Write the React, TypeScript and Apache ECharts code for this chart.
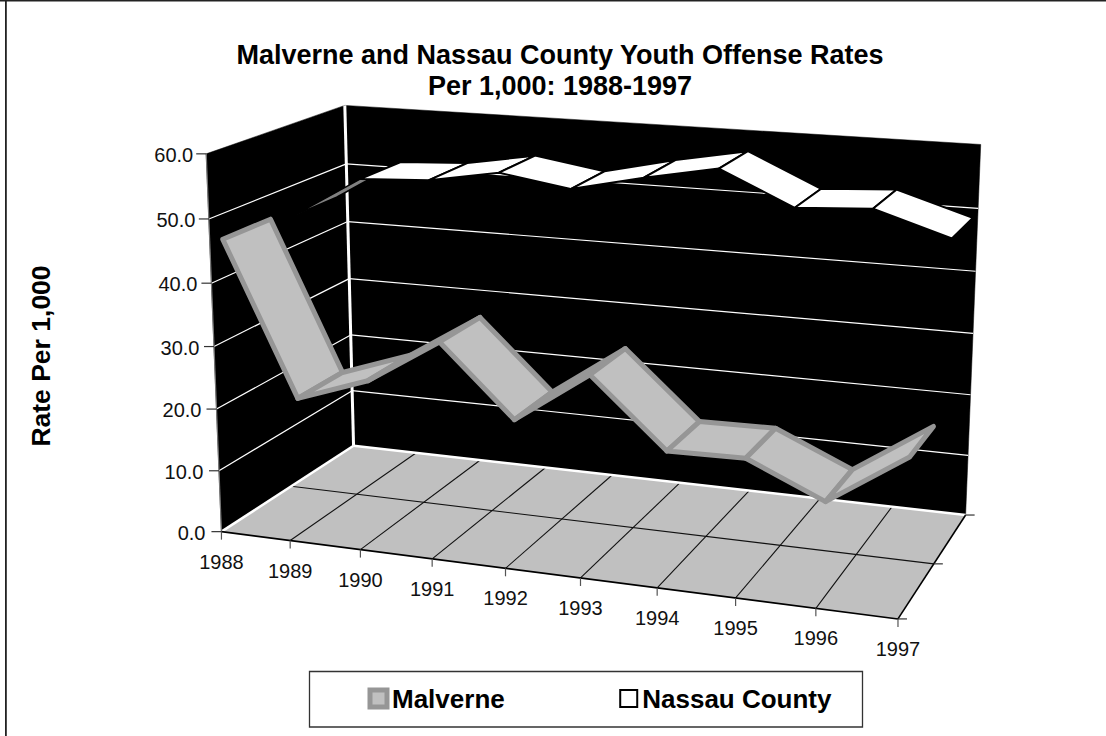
import React, { useEffect, useRef } from "react";
import * as echarts from "echarts";

const years = ["1988","1989","1990","1991","1992","1993","1994","1995","1996","1997"];
const malverne = [46.0,21.8,25.8,33.0,22.1,30.2,19.8,20.0,14.8,22.8];
const nassau = [45.0,51.8,52.4,54.4,52.6,55.2,57.4,52.2,52.9,49.3];
const valueTicks = [0,10,20,30,40,50,60];
const titleLines = ["Malverne and Nassau County Youth Offense Rates","Per 1,000: 1988-1997"];
const depthTicks = [0,0.5,1];

// Camera calibration for the 3D box: [year index, depth, value, screen x, screen y]
const anchors: number[][] = [
  [0,0,0,221,532],[0,1,0,354,445],[0,0,60,206,154],[0,1,60,345,106],[9,1,0,966,514],[9,1,60,981,145],[9,0,0,898,619],
  [1,0,0,290,540],[2,0,0,360,549],[3,0,0,432,559],[4,0,0,505,568],[7,0,0,736,598],[8,0,0,816,608],
  [0,0,10,219,471],[0,0,20,217,409],[0,0,30,214,347],[0,0,40,211,283],[0,0,50,209,219],
  [0,1,10,352,391],[0,1,20,351,335],[0,1,30,349,278],[0,1,40,347,221],[0,1,50,347,163],
  [9,1,50,978,208],[9,1,20,970,395],[9,1,10,968,456],
  [0,0.5,0,293,487],[9,0.5,0,934,564],[1,1,0,415,454],
];

// Least-squares fit of the 3x4 projection matrix (direct linear transform).
function fitCamera(): number[] {
  const n = 11;
  const A = Array.from({ length: n }, () => new Array(n + 1).fill(0));
  const add = (r: number[], b: number) => {
    for (let i = 0; i < n; i++) {
      for (let j = 0; j < n; j++) A[i][j] += r[i] * r[j];
      A[i][n] += r[i] * b;
    }
  };
  for (const [x, d, v, u, w] of anchors) {
    const X = x / 9, Z = v / 60, U = u / 1000, W = w / 1000;
    add([X, d, Z, 1, 0, 0, 0, 0, -U * X, -U * d, -U * Z], U);
    add([0, 0, 0, 0, X, d, Z, 1, -W * X, -W * d, -W * Z], W);
  }
  for (let i = 0; i < n; i++) {
    let m = i;
    for (let k = i + 1; k < n; k++) if (Math.abs(A[k][i]) > Math.abs(A[m][i])) m = k;
    [A[i], A[m]] = [A[m], A[i]];
    for (let k = 0; k < n; k++) {
      if (k === i) continue;
      const f = A[k][i] / A[i][i];
      for (let j = i; j <= n; j++) A[k][j] -= f * A[i][j];
    }
  }
  return A.map((r, i) => r[n] / r[i]);
}
const P = fitCamera();
function project(X: number, d: number, Z: number): [number, number] {
  const w = P[8] * X + P[9] * d + P[10] * Z + 1;
  return [1000 * (P[0] * X + P[1] * d + P[2] * Z + P[3]) / w, 1000 * (P[4] * X + P[5] * d + P[6] * Z + P[7]) / w];
}
const at = (i: number, d: number, v: number) => project(i / 9, d, v / 60);

const FONT = '"Liberation Sans", Arial, sans-serif';
const INK = "#111111";

// The flat cartesian grid only supplies the scales; it spans this rectangle and is hidden.
const GRID = { left: 0, top: 0, width: 900, height: 600 };

type Skin = { fill: string; stroke: string; width: number; underFill: string; underStroke: string; underWidth: number };

function ribbon(name: string, values: number[], d0: number, d1: number, skin: Skin) {
  return {
    type: "custom",
    name,
    coordinateSystem: "cartesian2d",
    z: 5,
    encode: { x: 0, y: 1 },
    itemStyle: { color: skin.fill },
    data: values.slice(0, -1).map((v, i) => [i, v, values[i + 1]]),
    renderItem: (_p: any, api: any) => {
      const i = api.value(0);
      const toBox = (idx: number, v: number, d: number) => {
        const c = api.coord([idx, v]);
        return project((c[0] - GRID.left) / GRID.width, d, 1 - (c[1] - GRID.top) / GRID.height);
      };
      const pts = [
        toBox(i, api.value(1), d0),
        toBox(i, api.value(1), d1),
        toBox(i + 1, api.value(2), d1),
        toBox(i + 1, api.value(2), d0),
      ];
      const a = [pts[1][0] - pts[0][0], pts[1][1] - pts[0][1]];
      const b = [pts[3][0] - pts[0][0], pts[3][1] - pts[0][1]];
      const facingDown = a[0] * b[1] - a[1] * b[0] < 0;
      return {
        type: "polygon",
        shape: { points: pts },
        style: {
          fill: facingDown ? skin.underFill : skin.fill,
          stroke: facingDown ? skin.underStroke : skin.stroke,
          lineWidth: facingDown ? skin.underWidth : skin.width,
          lineJoin: "round",
        },
      };
    },
  };
}

function boxGraphics() {
  const els: any[] = [];
  const poly = (pts: number[][], fill: string) => els.push({ type: "polygon", z: 0, silent: true, shape: { points: pts }, style: { fill, stroke: fill, lineWidth: 0.5 } });
  const line = (a: number[], b: number[], stroke: string, lineWidth: number) =>
    els.push({ type: "line", z: 1, silent: true, shape: { x1: a[0], y1: a[1], x2: b[0], y2: b[1] }, style: { stroke, lineWidth } });
  const text = (t: string, x: number, y: number, align: string) =>
    els.push({ type: "text", z: 2, silent: true, x, y, style: { text: t, fill: INK, font: `20px ${FONT}`, align, verticalAlign: "middle" } });

  // walls and floor
  poly([at(0,0,0), at(0,1,0), at(0,1,60), at(0,0,60)], "#000000");
  poly([at(0,1,0), at(9,1,0), at(9,1,60), at(0,1,60)], "#000000");
  poly([at(0,0,0), at(9,0,0), at(9,1,0), at(0,1,0)], "#C0C0C0");

  // value gridlines on both walls
  valueTicks.slice(1, -1).forEach((v) => {
    line(at(0,0,v), at(0,1,v), "#FFFFFF", 1.2);
    line(at(0,1,v), at(9,1,v), "#FFFFFF", 1.2);
  });
  // floor gridlines
  years.forEach((_, i) => { if (i > 0 && i < 9) line(at(i,0,0), at(i,1,0), "#111111", 1.1); });
  line(at(0,0.5,0), at(9,0.5,0), "#111111", 1.1);
  // white box edges
  line(at(0,1,0), at(0,1,60), "#FFFFFF", 3);
  line(at(0,0,0), at(0,1,0), "#FFFFFF", 2.5);
  line(at(0,1,0), at(9,1,0), "#FFFFFF", 2.5);
  // axis lines
  line(at(0,0,0), at(0,0,60), "#777777", 1.2);
  line(at(0,0,0), at(9,0,0), "#000000", 1.6);
  line(at(9,0,0), at(9,1,0), "#000000", 1.6);

  // value axis ticks and labels
  valueTicks.forEach((v) => {
    const p = at(0,0,v);
    line([p[0] - 10, p[1]], p, "#333333", 1.2);
    text(v.toFixed(1), p[0] - 16 + v * 0.05, p[1] + 1, "right");
  });
  // year ticks and labels
  years.forEach((y, i) => {
    const p = at(i,0,0);
    line(p, [p[0], p[1] + 8], "#555555", 1.2);
    text(y, p[0], p[1] + 30, "center");
  });
  // depth ticks
  depthTicks.forEach((d) => {
    const p = at(9,d,0);
    line(p, [p[0] + 9, p[1]], "#333333", 1.2);
  });

  // chart frame, only on the top and left
  els.push({ type: "rect", z: 0, silent: true, shape: { x: 0, y: 0, width: 1106, height: 1.6 }, style: { fill: "#222222" } });
  els.push({ type: "rect", z: 0, silent: true, shape: { x: 5, y: 0, width: 1.8, height: 736 }, style: { fill: "#222222" } });

  // legend box
  els.push({ type: "rect", z: 0, silent: true, shape: { x: 309.5, y: 671.5, width: 553, height: 55.5 }, style: { fill: "#FFFFFF", stroke: "#333333", lineWidth: 1.3 } });

  // value axis title
  els.push({ type: "text", z: 2, silent: true, x: 41, y: 356, rotation: Math.PI / 2, style: { text: "Rate Per 1,000", fill: "#000000", font: `bold 26.5px ${FONT}`, align: "center", verticalAlign: "middle" } });
  return els;
}

export default function App() {
  const ref = useRef<HTMLDivElement>(null);
  useEffect(() => {
    document.body.style.margin = "0";
    const chart = echarts.init(ref.current!, null, { renderer: "svg" });
    chart.setOption({
      animation: false,
      backgroundColor: "#FFFFFF",
      textStyle: { fontFamily: FONT },
      title: {
        text: titleLines.join("\n"),
        left: 555,
        top: 34,
        textAlign: "center",
        textStyle: { fontFamily: FONT, fontWeight: "bold", fontSize: 27, lineHeight: 31, color: "#000000" },
      },
      grid: { ...GRID, show: false, containLabel: false },
      xAxis: { type: "category", data: years, boundaryGap: false, show: false },
      yAxis: { type: "value", min: 0, max: 60, show: false },
      legend: {
        left: 367.5,
        top: 685.5,
        padding: 0,
        itemWidth: 17,
        itemHeight: 17,
        itemGap: 114.5,
        selectedMode: false,
        textStyle: { fontFamily: FONT, fontWeight: "bold", fontSize: 26, color: "#000000" },
        data: [
          { name: "Malverne", icon: "rect", itemStyle: { color: "#C0C0C0", borderColor: "#969696", borderWidth: 5 } },
          { name: "Nassau County", icon: "rect", itemStyle: { color: "#FFFFFF", borderColor: "#000000", borderWidth: 2 } },
        ],
      },
      graphic: { elements: boxGraphics() },
      series: [
        ribbon("Malverne", malverne, 0.085, 0.415, { fill: "#C0C0C0", stroke: "#969696", width: 5, underFill: "#C0C0C0", underStroke: "#969696", underWidth: 5 }),
        ribbon("Nassau County", nassau, 0.59, 0.915, { fill: "#FFFFFF", stroke: "#000000", width: 2, underFill: "#808080", underStroke: "#000000", underWidth: 1.5 }),
      ],
    });
    return () => chart.dispose();
  }, []);
  return <div ref={ref} style={{ width: 1106, height: 736 }} />;
}
